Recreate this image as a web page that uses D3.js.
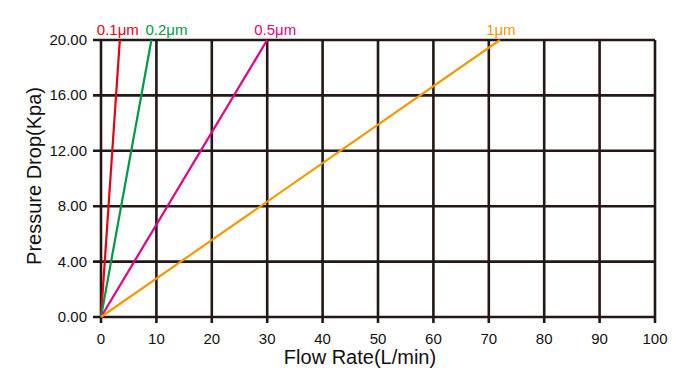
<!DOCTYPE html>
<html>
<head>
<meta charset="utf-8">
<script src="https://cdn.jsdelivr.net/npm/d3@7"></script>
<style>
  body { margin: 0; background: #fff; }
  text { font-family: Arial, "Liberation Sans", sans-serif; }
</style>
</head>
<body>
<script>
// filter pore sizes and the flow at which each reaches 20 Kpa
var series = ['0.1μm', '0.2μm', '0.5μm', '1μm'];
var flowAt20 = [3.4, 9.1, 30, 72];
var colors = ['#e60012', '#009944', '#e4007f', '#f39800'];
var labelDx = [-2, 15, 8, 1];

var xTicks = [0, 10, 20, 30, 40, 50, 60, 70, 80, 90, 100];
var yTicks = [0, 4, 8, 12, 16, 20];

var w = 700, h = 386;
var padL = 101, padR = 655, padT = 40, padB = 317;
var ink = '#231815';

var svg = d3.select('body').append('svg')
  .attr('width', w)
  .attr('height', h);

var x = d3.scaleLinear().domain([0, 100]).range([padL, padR]);
var y = d3.scaleLinear().domain([0, 20]).range([padB, padT]);

// grid
svg.append('g').selectAll('line')
  .data(xTicks)
  .enter().append('line')
    .attr('x1', d => x(d)).attr('x2', d => x(d))
    .attr('y1', y(20)).attr('y2', y(0) + 6)
    .attr('stroke', ink).attr('stroke-width', 2.6);

svg.append('g').selectAll('line')
  .data(yTicks)
  .enter().append('line')
    .attr('x1', x(0) - 8).attr('x2', x(100))
    .attr('y1', d => y(d)).attr('y2', d => y(d))
    .attr('stroke', ink).attr('stroke-width', 2.6);

// tick labels
svg.append('g').selectAll('text')
  .data(xTicks)
  .enter().append('text')
    .attr('x', d => x(d))
    .attr('y', 344)
    .attr('text-anchor', 'middle')
    .attr('font-size', 15)
    .attr('fill', '#111')
    .text(d => d);

svg.append('g').selectAll('text')
  .data(yTicks)
  .enter().append('text')
    .attr('x', 87)
    .attr('y', d => y(d) + 5)
    .attr('text-anchor', 'end')
    .attr('font-size', 15)
    .attr('fill', '#111')
    .text(d => d.toFixed(2));

// axis titles
svg.append('text')
  .attr('x', 360).attr('y', 364)
  .attr('text-anchor', 'middle')
  .attr('font-size', 20)
  .attr('fill', '#111')
  .text('Flow Rate(L/min)');

svg.append('text')
  .attr('transform', 'translate(41,176) rotate(-90)')
  .attr('text-anchor', 'middle')
  .attr('font-size', 20)
  .attr('fill', '#111')
  .text('Pressure Drop(Kpa)');

// series lines
series.forEach((s, i) => {
  svg.append('line')
    .attr('x1', x(0)).attr('y1', y(0))
    .attr('x2', x(flowAt20[i])).attr('y2', y(20))
    .attr('stroke', colors[i])
    .attr('stroke-width', 2.2);

  svg.append('text')
    .attr('x', x(flowAt20[i]) + labelDx[i])
    .attr('y', 35)
    .attr('text-anchor', 'middle')
    .attr('font-size', 15)
    .attr('fill', colors[i])
    .text(s);
});
</script>
</body>
</html>
